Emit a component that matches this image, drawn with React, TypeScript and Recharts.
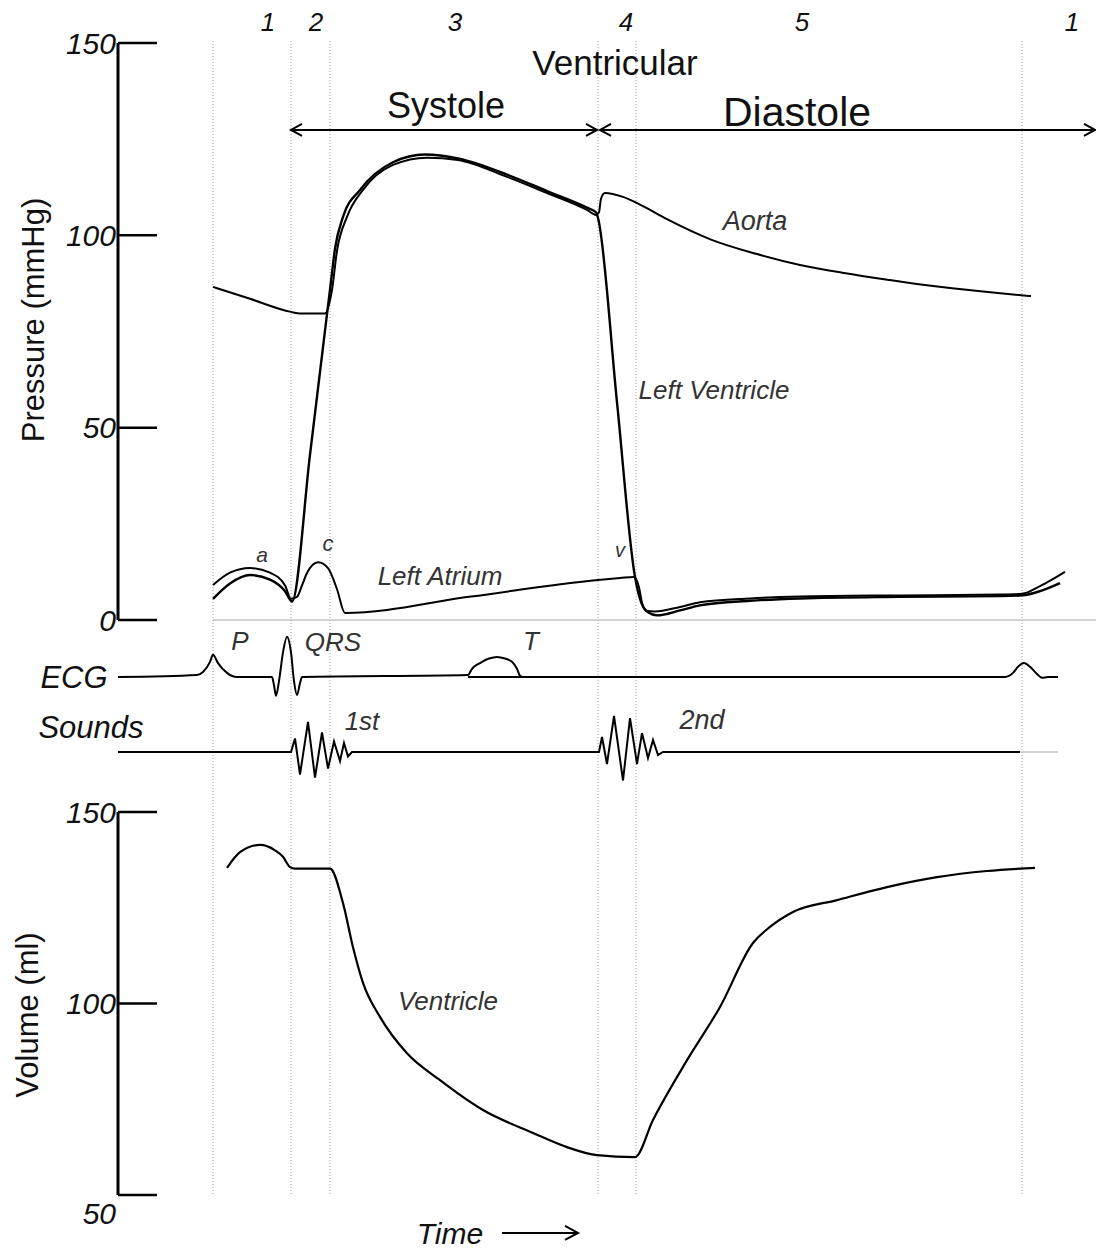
import React from 'react';
import {LineChart, Line, XAxis, YAxis, ReferenceLine, ReferenceDot} from 'recharts';

// time in ms from the start of atrial systole (roughly 1 px per ms in the original figure)
const timeDomain = [-95, 883];
const phaseBounds = [0, 78, 117, 385, 423, 809];
const phaseLabels = ['1', '2', '3', '4', '5', '1'];
const phaseLabelTimes = [55, 103, 242, 413, 589, 859];

// pressure (mmHg)
const aortaT = [0, 37, 78, 87, 112, 119, 124, 134, 150, 180, 214, 245, 294, 334, 374, 383, 386, 388, 392, 410, 430, 454, 498, 543, 587, 631, 676, 720, 765, 818];
const aortaP = [86.6, 83.5, 80.1, 79.7, 79.7, 85.8, 96, 104.8, 111.8, 118.3, 120.2, 119.6, 115.2, 111, 106.6, 105.3, 106, 109.5, 111, 110, 107.6, 104.2, 98.9, 95.2, 92.3, 90.2, 88.4, 86.8, 85.5, 84.2];

const ventricleT = [0, 17, 37, 57, 72, 79, 97, 114, 118, 122, 130, 147, 180, 212, 245, 294, 334, 374, 383, 385, 404, 422, 427, 435, 444, 467, 487, 537, 587, 687, 787, 809, 827, 847];
const ventricleP = [5.5, 9.5, 11.7, 10.5, 7.5, 4.8, 43, 79.5, 88, 96.5, 104.8, 111.8, 119, 121, 120, 115.8, 111.5, 107.2, 106, 104.5, 56.6, 11.2, 5.5, 2, 1.2, 2.5, 3.8, 5.0, 5.6, 6.0, 6.2, 6.4, 7.5, 9.6];

const atriumT = [0, 17, 37, 57, 72, 78, 84, 89, 94, 105, 115, 124, 132, 258, 385, 407, 421, 426, 429, 433, 442, 467, 487, 537, 587, 687, 787, 809, 827, 852];
const atriumP = [9.1, 12.3, 13.5, 12.3, 9, 5.5, 6, 9, 12.2, 15, 13.5, 8, 1.8, 6.1, 10.4, 10.9, 11.2, 8.5, 4.5, 2.4, 2.2, 3.4, 4.6, 5.6, 6.1, 6.4, 6.6, 6.8, 8.8, 12.5];

// ECG (mV) and heart sounds (arbitrary amplitude)
const ecgT = [-95, -16, -10, -3, 0, 5, 14, 24, 59, 61, 63, 66, 70, 74, 78, 81, 84, 87, 89, 255, 259, 267, 276, 284, 292, 299, 304, 307, 310, 792, 800, 805, 811, 817, 823, 829, 835, 845];
const ecgV = [0, 0.05, 0.12, 0.37, 0.54, 0.34, 0.1, 0, 0, -0.2, -0.46, -0.1, 0.6, 0.98, 0.6, -0.1, -0.44, -0.15, 0, 0.05, 0.2, 0.34, 0.45, 0.49, 0.45, 0.37, 0.2, 0.03, 0, 0, 0.1, 0.25, 0.34, 0.25, 0.1, -0.02, 0, 0];

const soundT = [-95, 78, 82, 87, 95, 102, 109, 115, 121, 127, 131, 135, 139, 386, 389, 394, 401, 410, 417, 424, 429, 435, 440, 445, 450, 807];
const soundV = [0, 0, 0.45, -0.75, 1.0, -0.85, 0.65, -0.55, 0.35, -0.3, 0.3, -0.15, 0, 0, 0.5, -0.4, 1.2, -0.95, 1.13, -0.4, 0.63, -0.2, 0.4, -0.1, 0, 0];

// ventricular volume (ml)
const volumeT = [14, 27, 47, 62, 70, 77, 82, 117, 130, 140, 150, 167, 194, 227, 270, 320, 354, 384, 422, 440, 474, 507, 540, 557, 580, 624, 674, 724, 774, 822];
const volumeV = [135.4, 139.5, 141.4, 140, 138.3, 135.6, 135.2, 135.2, 126.2, 114.7, 105.4, 96.5, 87, 80, 72.2, 66.2, 62.5, 60.4, 59.9, 69.6, 85.2, 99.1, 115.8, 120, 123.9, 127, 130.4, 133, 134.6, 135.4];

const pressureTicks = [0, 50, 100, 150];
const volumeTicks = [50, 100, 150];

const zip = (ts: number[], vs: number[]) => ts.map((t, i) => ({t, v: vs[i]}));

const FONT = "'Liberation Sans', Arial, sans-serif";
const W = 1096;
const H = 1249;

type Note = {t: number, v: number, text: string, size: number, italic?: boolean, color?: string, angle?: number};

const pressureNotes: Note[] = [
	...phaseLabels.map((s, i) => ({t: phaseLabelTimes[i], v: 155.5, text: s, size: 26, italic: true})),
	{t: 402, v: 144.8, text: 'Ventricular', size: 35},
	{t: 233, v: 133.9, text: 'Systole', size: 36},
	{t: 584, v: 132.1, text: 'Diastole', size: 41},
	{t: 542, v: 104, text: 'Aorta', size: 27, italic: true, color: '#333'},
	{t: 501, v: 59.8, text: 'Left Ventricle', size: 26, italic: true, color: '#333'},
	{t: 227, v: 11.4, text: 'Left Atrium', size: 26, italic: true, color: '#333'},
	{t: 49, v: 16.9, text: 'a', size: 21, italic: true, color: '#333'},
	{t: 115, v: 20, text: 'c', size: 22, italic: true, color: '#333'},
	{t: 407, v: 18.2, text: 'v', size: 20, italic: true, color: '#333'},
	{t: -180, v: 78, text: 'Pressure (mmHg)', size: 31, angle: -90},
];
const ecgNotes: Note[] = [
	{t: -139, v: 0, text: 'ECG', size: 31, italic: true},
	{t: 27, v: 0.88, text: 'P', size: 26, italic: true, color: '#333'},
	{t: 120, v: 0.85, text: 'QRS', size: 26, italic: true, color: '#333'},
	{t: 318, v: 0.88, text: 'T', size: 26, italic: true, color: '#333'},
];
const soundNotes: Note[] = [
	{t: -122, v: 0.85, text: 'Sounds', size: 31, italic: true},
	{t: 149, v: 1.03, text: '1st', size: 26, italic: true, color: '#333'},
	{t: 489, v: 1.1, text: '2nd', size: 27, italic: true, color: '#333'},
];
const volumeNotes: Note[] = [
	{t: 235, v: 100.7, text: 'Ventricle', size: 26, italic: true, color: '#333'},
	{t: -186, v: 97, text: 'Volume (ml)', size: 31, angle: -90},
	{t: 237, v: 40.1, text: 'Time', size: 30, italic: true},
];

const renderNotes = (notes: Note[]) => notes.map((n, i) => (
	<ReferenceDot key={'note' + i} x={n.t} y={n.v} r={0} stroke="none" fill="none" ifOverflow="visible"
		label={{
			value: n.text, position: 'center', fontSize: n.size, fontFamily: FONT,
			fontStyle: n.italic ? 'italic' : 'normal', fill: n.color || '#111', angle: n.angle || 0,
		}}/>
));

const doubleArrow = (props: any) => {
	const {x1, y1, x2, y2} = props;
	return <g stroke="#000" strokeWidth={2} fill="none">
		<line x1={x1} y1={y1} x2={x2} y2={y2}/>
		<polyline points={`${x1 + 11},${y1 - 6} ${x1},${y1} ${x1 + 11},${y1 + 6}`}/>
		<polyline points={`${x2 - 11},${y2 - 6} ${x2},${y2} ${x2 - 11},${y2 + 6}`}/>
	</g>;
};

const singleArrow = (props: any) => {
	const {x1, y1, x2, y2} = props;
	return <g stroke="#000" strokeWidth={2} fill="none">
		<line x1={x1} y1={y1} x2={x2} y2={y2}/>
		<polyline points={`${x2 - 13},${y2 - 7} ${x2},${y2} ${x2 - 13},${y2 + 7}`}/>
	</g>;
};

const AxisTick = (props: any) => {
	const {x, y, payload, drop} = props;
	return <g>
		<line x1={x} y1={y} x2={x + 39} y2={y} stroke="#000" strokeWidth={2.5}/>
		<text x={x - 2} y={y + (drop || 0)} textAnchor="end" dominantBaseline="central" fontSize={30}
			fontStyle="italic" fontFamily={FONT} fill="#111">{payload.value}</text>
	</g>;
};

const xAxis = <XAxis dataKey="t" type="number" domain={timeDomain} hide/>;

export default function App() {
	return <div style={{position: 'absolute', left: 0, top: 0, width: W, height: H, background: '#fff', fontFamily: FONT}}>
		{/* pressure */}
		<div style={{position: 'absolute', left: 0, top: 0}}>
			<LineChart width={W} height={H} margin={{top: 43, right: 0, bottom: 629, left: 58}}>
				{xAxis}
				<YAxis type="number" domain={[0, 150]} ticks={pressureTicks} interval={0} width={60}
					tickSize={0} tickMargin={0} tickLine={false} axisLine={{stroke: '#000', strokeWidth: 3}}
					tick={(p: any) => <AxisTick x={p.x} y={p.y} payload={p.payload}/>}/>
				{phaseBounds.map(t => (
					<ReferenceLine key={'ph' + t} segment={[{x: t, y: 150.5}, {x: t, y: -149.5}]} ifOverflow="visible"
						stroke="#9a9a9a" strokeWidth={1} strokeDasharray="1 2"/>
				))}
				<ReferenceLine segment={[{x: 0, y: 0}, {x: 883, y: 0}]} ifOverflow="visible" stroke="#aaa" strokeWidth={1.2}/>
				<ReferenceLine segment={[{x: 78, y: 127.4}, {x: 384, y: 127.4}]} ifOverflow="visible" shape={doubleArrow}/>
				<ReferenceLine segment={[{x: 387, y: 127.4}, {x: 882, y: 127.4}]} ifOverflow="visible" shape={doubleArrow}/>
				<Line data={zip(aortaT, aortaP)} dataKey="v" type="monotone" stroke="#000" strokeWidth={2}
					dot={false} activeDot={false} isAnimationActive={false}/>
				<Line data={zip(ventricleT, ventricleP)} dataKey="v" type="monotone" stroke="#000" strokeWidth={2.4}
					dot={false} activeDot={false} isAnimationActive={false}/>
				<Line data={zip(atriumT, atriumP)} dataKey="v" type="monotone" stroke="#000" strokeWidth={2}
					dot={false} activeDot={false} isAnimationActive={false}/>
				{renderNotes(pressureNotes)}
			</LineChart>
		</div>
		{/* ECG */}
		<div style={{position: 'absolute', left: 0, top: 0}}>
			<LineChart width={W} height={H} margin={{top: 636, right: 0, bottom: 531, left: 118}}>
				{xAxis}
				<YAxis type="number" domain={[-1, 1]} hide/>
				<ReferenceLine segment={[{x: 255, y: 0}, {x: 310, y: 0}]} ifOverflow="visible" stroke="#000" strokeWidth={2}/>
				<Line data={zip(ecgT, ecgV)} dataKey="v" type="monotone" stroke="#000" strokeWidth={2}
					dot={false} activeDot={false} isAnimationActive={false}/>
				{renderNotes(ecgNotes)}
			</LineChart>
		</div>
		{/* heart sounds */}
		<div style={{position: 'absolute', left: 0, top: 0}}>
			<LineChart width={W} height={H} margin={{top: 707, right: 0, bottom: 452, left: 118}}>
				{xAxis}
				<YAxis type="number" domain={[-1.5, 1.5]} hide/>
				<ReferenceLine segment={[{x: 807, y: 0}, {x: 845, y: 0}]} ifOverflow="visible" stroke="#aaa" strokeWidth={1.2}/>
				<Line data={zip(soundT, soundV)} dataKey="v" type="linear" stroke="#000" strokeWidth={2}
					dot={false} activeDot={false} isAnimationActive={false}/>
				{renderNotes(soundNotes)}
			</LineChart>
		</div>
		{/* volume */}
		<div style={{position: 'absolute', left: 0, top: 0}}>
			<LineChart width={W} height={H} margin={{top: 812, right: 0, bottom: 54, left: 58}}>
				{xAxis}
				<YAxis type="number" domain={[50, 150]} ticks={volumeTicks} interval={0} width={60}
					tickSize={0} tickMargin={0} tickLine={false} axisLine={{stroke: '#000', strokeWidth: 3}}
					tick={(p: any) => <AxisTick x={p.x} y={p.y} payload={p.payload} drop={p.payload.value === 50 ? 18 : 0}/>}/>
				<ReferenceLine segment={[{x: 289, y: 40.1}, {x: 365, y: 40.1}]} ifOverflow="visible" shape={singleArrow}/>
				<Line data={zip(volumeT, volumeV)} dataKey="v" type="monotone" stroke="#000" strokeWidth={2.2}
					dot={false} activeDot={false} isAnimationActive={false}/>
				{renderNotes(volumeNotes)}
			</LineChart>
		</div>
	</div>;
}
